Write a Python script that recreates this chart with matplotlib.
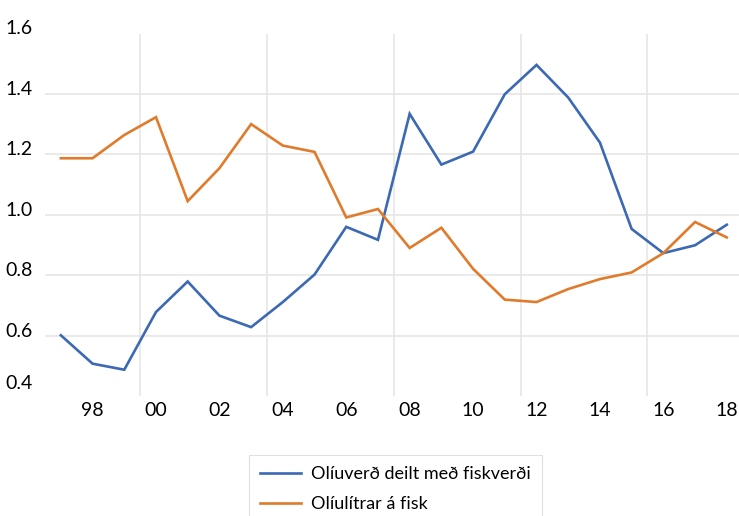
import matplotlib
matplotlib.use("Agg")
import matplotlib.pyplot as plt
import matplotlib.transforms as mtransforms
from matplotlib.ticker import FixedLocator

# Gögn lesin af myndinni
years = list(range(1997, 2019))
oil_div_fish = [0.601, 0.507, 0.487, 0.678, 0.779, 0.666, 0.628, 0.711, 0.802, 0.960,
                0.917, 1.334, 1.166, 1.209, 1.399, 1.496, 1.388, 1.239, 0.953, 0.873,
                0.899, 0.967]
oil_litres_fish = [1.187, 1.187, 1.264, 1.323, 1.045, 1.154, 1.300, 1.229, 1.208, 0.991,
                   1.019, 0.890, 0.957, 0.821, 0.719, 0.711, 0.754, 0.787, 0.809, 0.873,
                   0.976, 0.925]
labels = ["Olíuverð deilt með fiskverði", "Olíulítrar á fisk"]
x_ticks = list(range(1998, 2019, 2))
y_ticks = [0.4, 0.6, 0.8, 1.0, 1.2, 1.4, 1.6]

BLUE = "#3C69B3"
ORANGE = "#E07B2C"
GRID = "#E4E4E4"

plt.rcParams["font.family"] = ["Lato", "DejaVu Sans"]

fig = plt.figure(figsize=(7.39, 5.16), dpi=100)
ax = fig.add_axes([45 / 739, 120 / 516, 694 / 739, 362.5 / 516])

ax.plot(years, oil_div_fish, color=BLUE, lw=1.9, label=labels[0], solid_joinstyle="miter")
ax.plot(years, oil_litres_fish, color=ORANGE, lw=1.9, label=labels[1], solid_joinstyle="miter")

ax.set_xlim(1996.5, 1996.5 + 694 / 31.71)
ax.set_ylim(0.4, 1.6)

ax.set_xticks(x_ticks)
ax.set_xticklabels([f"{y % 100:02d}" for y in x_ticks])
ax.xaxis.set_minor_locator(FixedLocator([1999.5, 2003.5, 2007.5, 2011.5, 2015.5]))
ax.set_yticks(y_ticks)
ax.set_yticklabels([f"{v:.1f}" for v in y_ticks])

ax.grid(axis="y", which="major", color=GRID, lw=1.1)
ax.grid(axis="x", which="minor", color=GRID, lw=1.1)
ax.grid(axis="x", which="major", visible=False)
gl = ax.yaxis.get_gridlines()
gl[0].set_visible(False)
gl[-1].set_visible(False)
ax.set_axisbelow(True)

for s in ax.spines.values():
    s.set_visible(False)
ax.tick_params(axis="both", which="both", length=0, labelsize=14, colors="#000000")
ax.tick_params(axis="x", pad=4)
ax.tick_params(axis="y", pad=9)

# Excel-lík staðsetning: y-merki ögn ofar en línurnar
for lab, v in zip(ax.get_yticklabels(), y_ticks):
    dy = 14 if v == 0.4 else 6
    lab.set_transform(lab.get_transform() + mtransforms.ScaledTranslation(0, dy / 100, fig.dpi_scale_trans))

leg = fig.legend(loc="upper left", bbox_to_anchor=(249 / 739, 1 - 455 / 516),
                 fontsize=13, frameon=True, fancybox=False, handlelength=2.3,
                 handletextpad=0.55, labelspacing=0.8, borderpad=0.6,
                 borderaxespad=0)
leg.get_frame().set_edgecolor("#D9D9D9")
leg.get_frame().set_linewidth(0.8)

fig.savefig("out.png", dpi=100)
